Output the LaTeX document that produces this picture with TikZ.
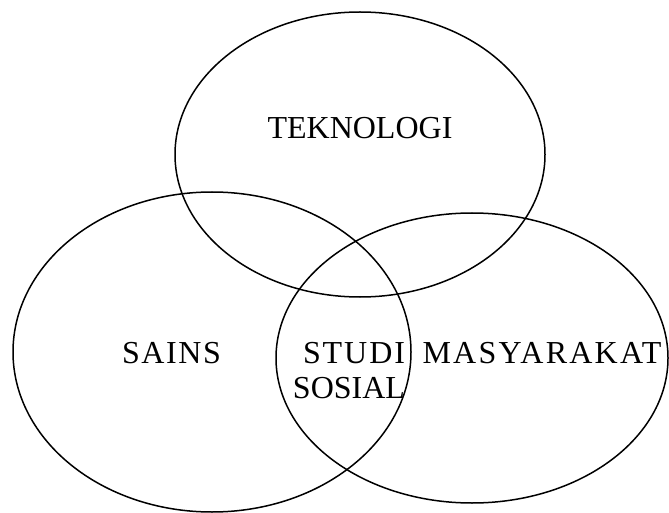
\documentclass[tikz,border=0pt]{standalone}
\usepackage{fontspec}
\setmainfont{Liberation Serif}
\begin{document}
\begin{tikzpicture}[x=1pt,y=-1pt,
  ring/.style={draw=black,line width=1.5pt},
  lbl/.style={anchor=base,inner sep=0pt,font=\fontsize{32}{32}\selectfont}]
\useasboundingbox (0,0) rectangle (669,513);
\draw[ring] (360,154.5) ellipse [x radius=185,y radius=142.5];
\draw[ring] (212,352) ellipse [x radius=199,y radius=160];
\draw[ring] (472,358) ellipse [x radius=196,y radius=145];
\node[lbl] (tek) at (360,139) {TEKNOLOGI};
\node[lbl] (sains) at (171.5,363) {\addfontfeature{LetterSpace=5}SAINS};
\node[lbl] (studi) at (354,363) {\addfontfeature{LetterSpace=6}STUDI};
\node[lbl] (sosial) at (349,398) {SOSIAL};
\node[lbl] (mas) at (542,363) {\addfontfeature{LetterSpace=7}MASYARAKAT};
\end{tikzpicture}
\end{document}
